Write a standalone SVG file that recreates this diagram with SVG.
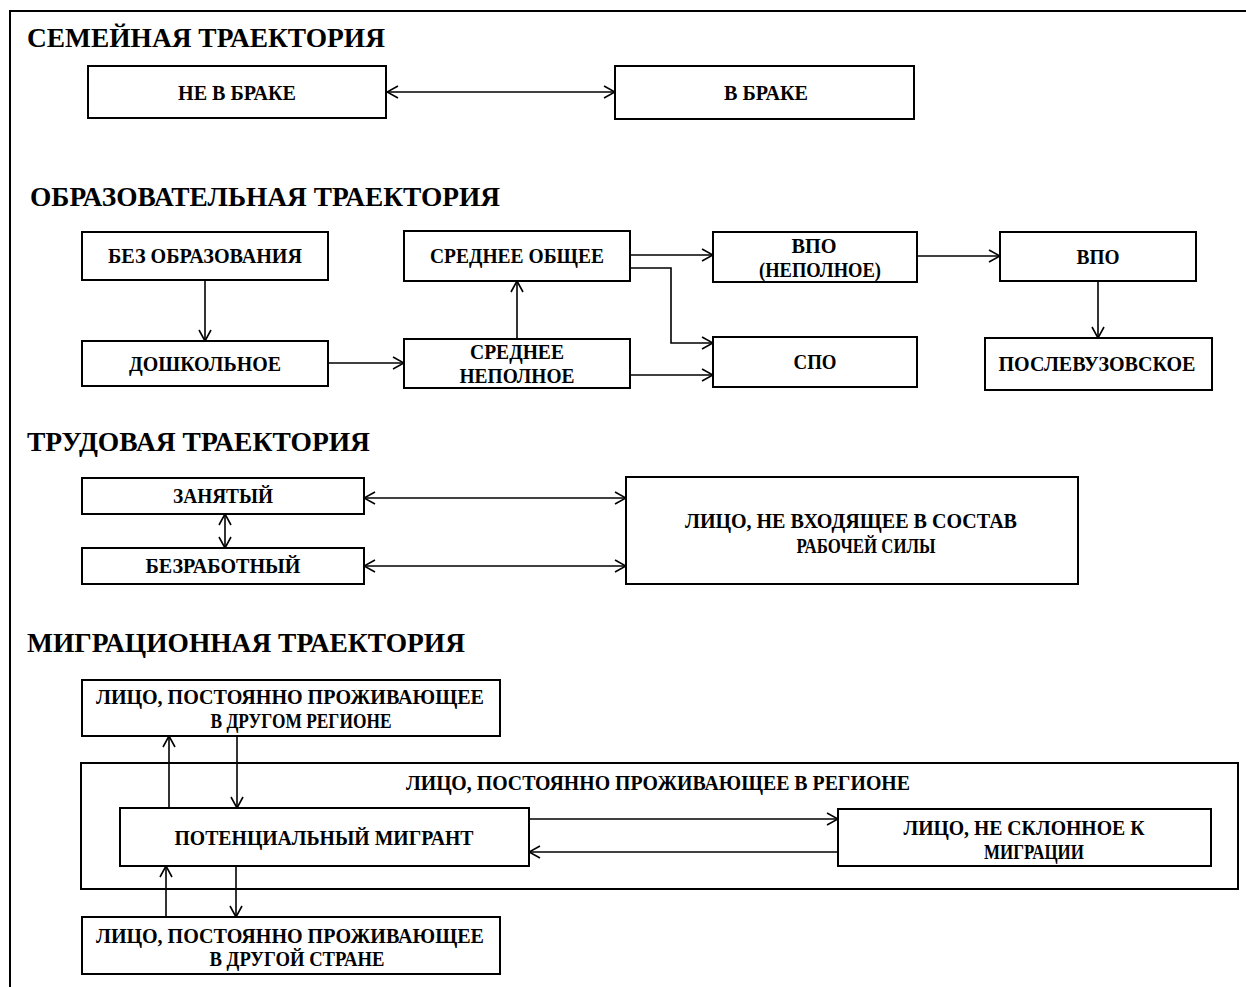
<svg xmlns="http://www.w3.org/2000/svg" width="1246" height="987" viewBox="0 0 1246 987">
<defs>
<marker id="ah" viewBox="0 0 14 14" refX="13" refY="7" markerWidth="14" markerHeight="14" markerUnits="userSpaceOnUse" orient="auto-start-reverse">
<path d="M2,1 L13,7 L2,13" fill="none" stroke="#000" stroke-width="1.6"/>
</marker>
</defs>
<style>
.box{fill:#fff;stroke:#000;stroke-width:2}
.t{font-family:"Liberation Serif","Times New Roman",serif;font-weight:bold;font-size:20.5px;fill:#000;text-anchor:middle}
.h{font-family:"Liberation Serif","Times New Roman",serif;font-weight:bold;font-size:27px;fill:#000}
.c{fill:none;stroke:#000;stroke-width:1.6}
.a{marker-end:url(#ah)}
.d{marker-start:url(#ah);marker-end:url(#ah)}
</style>
<rect width="1246" height="987" fill="#fff"/>
<g id="frame"><path d="M10,987 V11 H1246" fill="none" stroke="#000" stroke-width="2"/></g>

<g id="titles">
<text class="h" x="27" y="47" textLength="358" lengthAdjust="spacingAndGlyphs">СЕМЕЙНАЯ ТРАЕКТОРИЯ</text>
<text class="h" x="30" y="206" textLength="470" lengthAdjust="spacingAndGlyphs">ОБРАЗОВАТЕЛЬНАЯ  ТРАЕКТОРИЯ</text>
<text class="h" x="27" y="451" textLength="343" lengthAdjust="spacingAndGlyphs">ТРУДОВАЯ ТРАЕКТОРИЯ</text>
<text class="h" x="27" y="652" textLength="438" lengthAdjust="spacingAndGlyphs">МИГРАЦИОННАЯ ТРАЕКТОРИЯ</text>
</g>

<g id="region">
<rect class="box" x="81" y="763" width="1157" height="126"/>
<text class="t" x="658" y="790" textLength="504" lengthAdjust="spacingAndGlyphs">ЛИЦО, ПОСТОЯННО  ПРОЖИВАЮЩЕЕ В РЕГИОНЕ</text>
</g>

<g id="connectors">
<line class="c d" x1="387" y1="92" x2="615" y2="92"/>
<line class="c a" x1="205" y1="280" x2="205" y2="341"/>
<line class="c a" x1="328" y1="363" x2="404" y2="363"/>
<line class="c a" x1="517" y1="339" x2="517" y2="281"/>
<line class="c a" x1="630" y1="255" x2="713" y2="255"/>
<polyline class="c a" points="630,268 671,268 671,343 713,343"/>
<line class="c a" x1="630" y1="375" x2="713" y2="375"/>
<line class="c a" x1="917" y1="256" x2="1000" y2="256"/>
<line class="c a" x1="1098" y1="281" x2="1098" y2="338"/>
<line class="c d" x1="364" y1="498" x2="626" y2="498"/>
<line class="c d" x1="364" y1="566" x2="626" y2="566"/>
<line class="c d" x1="225" y1="514" x2="225" y2="548"/>
<line class="c a" x1="169" y1="808" x2="169" y2="736"/>
<line class="c a" x1="237" y1="736" x2="237" y2="808"/>
<line class="c a" x1="529" y1="819" x2="838" y2="819"/>
<line class="c a" x1="838" y1="852" x2="529" y2="852"/>
<line class="c a" x1="166" y1="917" x2="166" y2="866"/>
<line class="c a" x1="236" y1="866" x2="236" y2="917"/>
</g>

<g id="n_ne_v_brake"><rect class="box" x="88" y="66" width="298" height="52"/><text class="t" x="237" y="100" textLength="118" lengthAdjust="spacingAndGlyphs">НЕ В БРАКЕ</text></g>
<g id="n_v_brake"><rect class="box" x="615" y="66" width="299" height="53"/><text class="t" x="766" y="100" textLength="84" lengthAdjust="spacingAndGlyphs">В БРАКЕ</text></g>

<g id="n_bez_obr"><rect class="box" x="82" y="232" width="246" height="48"/><text class="t" x="205" y="263" textLength="194" lengthAdjust="spacingAndGlyphs">БЕЗ ОБРАЗОВАНИЯ</text></g>
<g id="n_doshk"><rect class="box" x="82" y="341" width="246" height="45"/><text class="t" x="205" y="371" textLength="152" lengthAdjust="spacingAndGlyphs">ДОШКОЛЬНОЕ</text></g>
<g id="n_sred_obsh"><rect class="box" x="404" y="231" width="226" height="50"/><text class="t" x="517" y="263" textLength="174" lengthAdjust="spacingAndGlyphs">СРЕДНЕЕ ОБЩЕЕ</text></g>
<g id="n_sred_nepoln"><rect class="box" x="404" y="339" width="226" height="49"/><text class="t" x="517" y="359" textLength="94" lengthAdjust="spacingAndGlyphs">СРЕДНЕЕ</text><text class="t" x="517" y="383" textLength="115" lengthAdjust="spacingAndGlyphs">НЕПОЛНОЕ</text></g>
<g id="n_vpo_nepoln"><rect class="box" x="713" y="232" width="204" height="50"/><text class="t" x="814" y="253" textLength="45" lengthAdjust="spacingAndGlyphs">ВПО</text><text class="t" x="820" y="277" textLength="122" lengthAdjust="spacingAndGlyphs">(НЕПОЛНОЕ)</text></g>
<g id="n_vpo"><rect class="box" x="1000" y="232" width="196" height="49"/><text class="t" x="1098" y="264" textLength="43" lengthAdjust="spacingAndGlyphs">ВПО</text></g>
<g id="n_spo"><rect class="box" x="713" y="337" width="204" height="50"/><text class="t" x="815" y="369" textLength="43" lengthAdjust="spacingAndGlyphs">СПО</text></g>
<g id="n_poslevuz"><rect class="box" x="985" y="338" width="227" height="52"/><text class="t" x="1097" y="371" textLength="197" lengthAdjust="spacingAndGlyphs">ПОСЛЕВУЗОВСКОЕ</text></g>

<g id="n_zanyat"><rect class="box" x="82" y="478" width="282" height="36"/><text class="t" x="223" y="503" textLength="100" lengthAdjust="spacingAndGlyphs">ЗАНЯТЫЙ</text></g>
<g id="n_bezrab"><rect class="box" x="82" y="548" width="282" height="36"/><text class="t" x="223" y="573" textLength="155" lengthAdjust="spacingAndGlyphs">БЕЗРАБОТНЫЙ</text></g>
<g id="n_ne_rab_sila"><rect class="box" x="626" y="477" width="452" height="107"/><text class="t" x="851" y="528" textLength="332" lengthAdjust="spacingAndGlyphs">ЛИЦО, НЕ ВХОДЯЩЕЕ В СОСТАВ</text><text class="t" x="866" y="553" textLength="139" lengthAdjust="spacingAndGlyphs">РАБОЧЕЙ СИЛЫ</text></g>

<g id="n_dr_region"><rect class="box" x="82" y="680" width="418" height="56"/><text class="t" x="290" y="704" textLength="388" lengthAdjust="spacingAndGlyphs">ЛИЦО, ПОСТОЯННО  ПРОЖИВАЮЩЕЕ</text><text class="t" x="301" y="728" textLength="181" lengthAdjust="spacingAndGlyphs">В ДРУГОМ РЕГИОНЕ</text></g>
<g id="n_pot_migr"><rect class="box" x="120" y="808" width="409" height="58"/><text class="t" x="324" y="845" textLength="299" lengthAdjust="spacingAndGlyphs">ПОТЕНЦИАЛЬНЫЙ МИГРАНТ</text></g>
<g id="n_ne_skl"><rect class="box" x="838" y="809" width="373" height="57"/><text class="t" x="1024" y="835" textLength="241" lengthAdjust="spacingAndGlyphs">ЛИЦО, НЕ СКЛОННОЕ К</text><text class="t" x="1034" y="859" textLength="100" lengthAdjust="spacingAndGlyphs">МИГРАЦИИ</text></g>
<g id="n_dr_strana"><rect class="box" x="82" y="917" width="418" height="57"/><text class="t" x="290" y="943" textLength="388" lengthAdjust="spacingAndGlyphs">ЛИЦО, ПОСТОЯННО  ПРОЖИВАЮЩЕЕ</text><text class="t" x="297" y="966" textLength="175" lengthAdjust="spacingAndGlyphs">В ДРУГОЙ СТРАНЕ</text></g>
</svg>
